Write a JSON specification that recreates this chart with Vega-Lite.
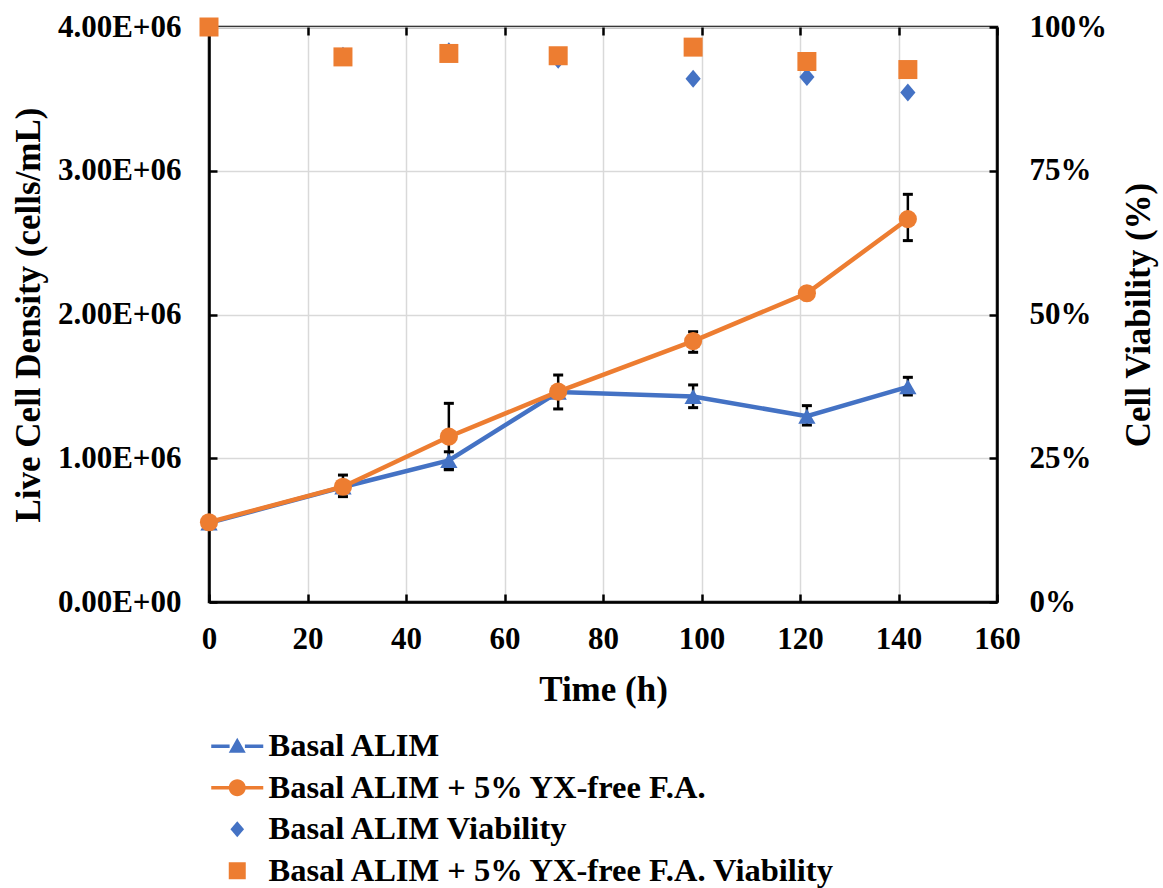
{
  "$schema": "https://vega.github.io/schema/vega-lite/v6.json",
  "width": 788,
  "height": 575,
  "autosize": {"type": "none"},
  "padding": {"left": 209, "top": 27, "right": 166, "bottom": 286},
  "background": "white",
  "config": {
    "view": {"stroke": "black", "strokeWidth": 2.5},
    "font": "Liberation Serif"
  },
  "datasets": {
    "density": [
      {"t": 0, "series": "Basal ALIM", "value": 550000, "lo": null, "hi": null},
      {"t": 27.2, "series": "Basal ALIM", "value": 800000, "lo": null, "hi": null},
      {"t": 48.7, "series": "Basal ALIM", "value": 985000, "lo": 925000, "hi": 1045000},
      {"t": 70.9, "series": "Basal ALIM", "value": 1460000, "lo": null, "hi": null},
      {"t": 98.3, "series": "Basal ALIM", "value": 1430000, "lo": 1352000, "hi": 1510000},
      {"t": 121.4, "series": "Basal ALIM", "value": 1293000, "lo": 1231000, "hi": 1366000},
      {"t": 141.9, "series": "Basal ALIM", "value": 1497000, "lo": 1440000, "hi": 1563000},
      {"t": 0, "series": "Basal ALIM + 5% YX-free F.A.", "value": 555000, "lo": null, "hi": null},
      {"t": 27.2, "series": "Basal ALIM + 5% YX-free F.A.", "value": 802000, "lo": 733000, "hi": 883000},
      {"t": 48.7, "series": "Basal ALIM + 5% YX-free F.A.", "value": 1150000, "lo": 920000, "hi": 1382000},
      {"t": 70.9, "series": "Basal ALIM + 5% YX-free F.A.", "value": 1463000, "lo": 1343000, "hi": 1579000},
      {"t": 98.3, "series": "Basal ALIM + 5% YX-free F.A.", "value": 1815000, "lo": 1737000, "hi": 1880000},
      {"t": 121.4, "series": "Basal ALIM + 5% YX-free F.A.", "value": 2148000, "lo": null, "hi": null},
      {"t": 141.9, "series": "Basal ALIM + 5% YX-free F.A.", "value": 2664000, "lo": 2514000, "hi": 2836000}
    ],
    "viability": [
      {"t": 0, "series": "Basal ALIM Viability", "v": 1.0},
      {"t": 27.2, "series": "Basal ALIM Viability", "v": 0.95},
      {"t": 48.7, "series": "Basal ALIM Viability", "v": 0.958},
      {"t": 70.9, "series": "Basal ALIM Viability", "v": 0.943},
      {"t": 98.3, "series": "Basal ALIM Viability", "v": 0.91},
      {"t": 121.4, "series": "Basal ALIM Viability", "v": 0.913},
      {"t": 141.9, "series": "Basal ALIM Viability", "v": 0.886},
      {"t": 0, "series": "Basal ALIM + 5% YX-free F.A. Viability", "v": 1.0},
      {"t": 27.2, "series": "Basal ALIM + 5% YX-free F.A. Viability", "v": 0.948},
      {"t": 48.7, "series": "Basal ALIM + 5% YX-free F.A. Viability", "v": 0.954},
      {"t": 70.9, "series": "Basal ALIM + 5% YX-free F.A. Viability", "v": 0.95},
      {"t": 98.3, "series": "Basal ALIM + 5% YX-free F.A. Viability", "v": 0.965},
      {"t": 121.4, "series": "Basal ALIM + 5% YX-free F.A. Viability", "v": 0.94},
      {"t": 141.9, "series": "Basal ALIM + 5% YX-free F.A. Viability", "v": 0.926}
    ]
  },
  "layer": [
    {
      "data": {"name": "density"},
      "encoding": {
        "x": {
          "field": "t", "type": "quantitative",
          "scale": {"domain": [0, 160], "nice": false},
          "axis": {
            "orient": "bottom", "values": [0, 20, 40, 60, 80, 100, 120, 140, 160],
            "grid": true, "gridColor": "#d9d9d9", "gridWidth": 1.5,
            "domain": true, "domainColor": "black", "domainWidth": 2.5,
            "ticks": true, "tickColor": "black", "tickWidth": 2.5, "tickSize": -8,
            "labelFont": "Liberation Serif", "labelFontSize": 31, "labelFontWeight": "bold", "labelColor": "black",
            "labelPadding": 30, "labelFlush": false, "labelOverlap": false, "labelBound": false,
            "title": "Time (h)", "titleFont": "Liberation Serif", "titleFontSize": 35, "titleFontWeight": "bold", "titleColor": "black",
            "titleY": 98, "titleBaseline": "alphabetic"
          }
        },
        "color": {
          "field": "series", "type": "nominal",
          "scale": {
            "domain": ["Basal ALIM", "Basal ALIM + 5% YX-free F.A.", "Basal ALIM Viability", "Basal ALIM + 5% YX-free F.A. Viability"],
            "range": ["#4472C4", "#ED7D31", "#4472C4", "#ED7D31"]
          }
        }
      },
      "layer": [
        {
          "transform": [{"filter": "datum.lo != null"}],
          "mark": {"type": "rule", "color": "black", "strokeWidth": 2.5},
          "encoding": {
            "color": {"value": "black"},
            "y": {"field": "lo", "type": "quantitative", "scale": {"domain": [0, 4000000], "nice": false}, "axis": {"title": "Live Cell Density (cells/mL)"}},
            "y2": {"field": "hi"}
          }
        },
        {
          "transform": [{"filter": "datum.lo != null"}],
          "mark": {"type": "tick", "orient": "horizontal", "size": 10, "thickness": 3, "opacity": 1},
          "encoding": {
            "color": {"value": "black"},
            "y": {"field": "lo", "type": "quantitative", "axis": {"title": "Live Cell Density (cells/mL)"}}
          }
        },
        {
          "transform": [{"filter": "datum.hi != null"}],
          "mark": {"type": "tick", "orient": "horizontal", "size": 10, "thickness": 3, "opacity": 1},
          "encoding": {
            "color": {"value": "black"},
            "y": {"field": "hi", "type": "quantitative", "axis": {"title": "Live Cell Density (cells/mL)"}}
          }
        },
        {
          "mark": {"type": "line", "strokeWidth": 4.5},
          "encoding": {
            "y": {
              "field": "value", "type": "quantitative",
              "axis": {
                "orient": "left", "values": [0, 1000000, 2000000, 3000000, 4000000],
                "labelExpr": "format(datum.value / 1000000, '.2f') + (datum.value == 0 ? 'E+00' : 'E+06')",
                "grid": true, "gridColor": "#d9d9d9", "gridWidth": 1.5,
                "domain": true, "domainColor": "black", "domainWidth": 2.5,
                "ticks": true, "tickColor": "black", "tickWidth": 2.5, "tickSize": -8,
                "labelFont": "Liberation Serif", "labelFontSize": 31, "labelFontWeight": "bold", "labelColor": "black",
                "labelPadding": 36, "labelFlush": false, "labelOverlap": false, "labelBound": false,
                "title": "Live Cell Density (cells/mL)", "titleFont": "Liberation Serif", "titleFontSize": 35, "titleFontWeight": "bold", "titleColor": "black",
                "titleAngle": 270, "titleX": -170, "titleY": 287.5, "titleBaseline": "alphabetic", "titleAlign": "center"
              }
            }
          }
        },
        {
          "transform": [{"filter": "datum.series == 'Basal ALIM'"}],
          "mark": {"type": "point", "filled": true, "size": 300, "opacity": 1, "shape": "triangle-up"},
          "encoding": {
            "y": {"field": "value", "type": "quantitative", "axis": {"title": "Live Cell Density (cells/mL)"}}
          }
        },
        {
          "transform": [{"filter": "datum.series != 'Basal ALIM'"}],
          "mark": {"type": "point", "filled": true, "size": 330, "opacity": 1, "shape": "circle"},
          "encoding": {
            "y": {"field": "value", "type": "quantitative", "axis": {"title": "Live Cell Density (cells/mL)"}}
          }
        },
        {
          "mark": {"type": "point", "filled": true, "size": 289, "opacity": 0},
          "encoding": {
            "y": {"field": "value", "type": "quantitative", "axis": {"title": "Live Cell Density (cells/mL)"}},
            "shape": {
              "field": "series", "type": "nominal",
              "scale": {
                "domain": ["Basal ALIM", "Basal ALIM + 5% YX-free F.A.", "Basal ALIM Viability", "Basal ALIM + 5% YX-free F.A. Viability"],
                "range": [
                  "M-3.06,-0.2H-0.9V0.2H-3.06Z M0.9,-0.2H3.06V0.2H0.9Z M0,-1L1,0.75H-1Z",
                  "M-3.06,-0.2H-0.9V0.2H-3.06Z M0.9,-0.2H3.06V0.2H0.9Z M-1,0A1,1 0 1,1 1,0A1,1 0 1,1 -1,0Z",
                  "M0,-0.95L0.8,0L0,0.95L-0.8,0Z",
                  "M-1,-1H1V1H-1Z"
                ]
              },
              "legend": {
                "orient": "none", "legendX": 12, "legendY": 703, "direction": "vertical", "title": null,
                "labelFont": "Liberation Serif", "labelFontSize": 32.5, "labelFontWeight": "bold", "labelColor": "black", "labelLimit": 1000,
                "symbolSize": 289, "symbolOpacity": 1, "symbolStrokeWidth": 0, "rowPadding": 8.5, "labelOffset": 15
              }
            }
          }
        }
      ]
    },
    {
      "data": {"name": "viability"},
      "encoding": {
        "x": {
          "field": "t", "type": "quantitative",
          "axis": {
            "orient": "top", "values": [0, 20, 40, 60, 80, 100, 120, 140, 160],
            "labels": false, "title": null, "grid": false, "domain": false,
            "ticks": true, "tickColor": "black", "tickWidth": 2.5, "tickSize": -8
          }
        },
        "y": {
          "field": "v", "type": "quantitative",
          "scale": {"domain": [0, 1], "nice": false},
          "axis": {
            "orient": "right", "values": [0, 0.25, 0.5, 0.75, 1], "format": ".0%",
            "grid": false, "domain": true, "domainColor": "black", "domainWidth": 2.5,
            "ticks": true, "tickColor": "black", "tickWidth": 2.5, "tickSize": -8,
            "labelFont": "Liberation Serif", "labelFontSize": 31, "labelFontWeight": "bold", "labelColor": "black",
            "labelPadding": 40, "labelAlign": "left", "labelFlush": false, "labelOverlap": false, "labelBound": false,
            "title": "Cell Viability (%)", "titleFont": "Liberation Serif", "titleFontSize": 35, "titleFontWeight": "bold", "titleColor": "black",
            "titleAngle": 270, "titleX": 152, "titleY": 287.5, "titleBaseline": "alphabetic", "titleAlign": "center"
          }
        },
        "color": {"field": "series", "type": "nominal"}
      },
      "layer": [
        {
          "transform": [{"filter": "datum.series == 'Basal ALIM Viability'"}],
          "mark": {"type": "point", "filled": true, "size": 361, "opacity": 1, "shape": "M0,-0.95L0.8,0L0,0.95L-0.8,0Z"}
        },
        {
          "transform": [{"filter": "datum.series != 'Basal ALIM Viability'"}],
          "mark": {"type": "point", "filled": true, "size": 361, "opacity": 1, "shape": "square"}
        }
      ]
    }
  ],
  "resolve": {
    "scale": {"y": "independent"},
    "axis": {"x": "independent", "y": "independent"}
  }
}
